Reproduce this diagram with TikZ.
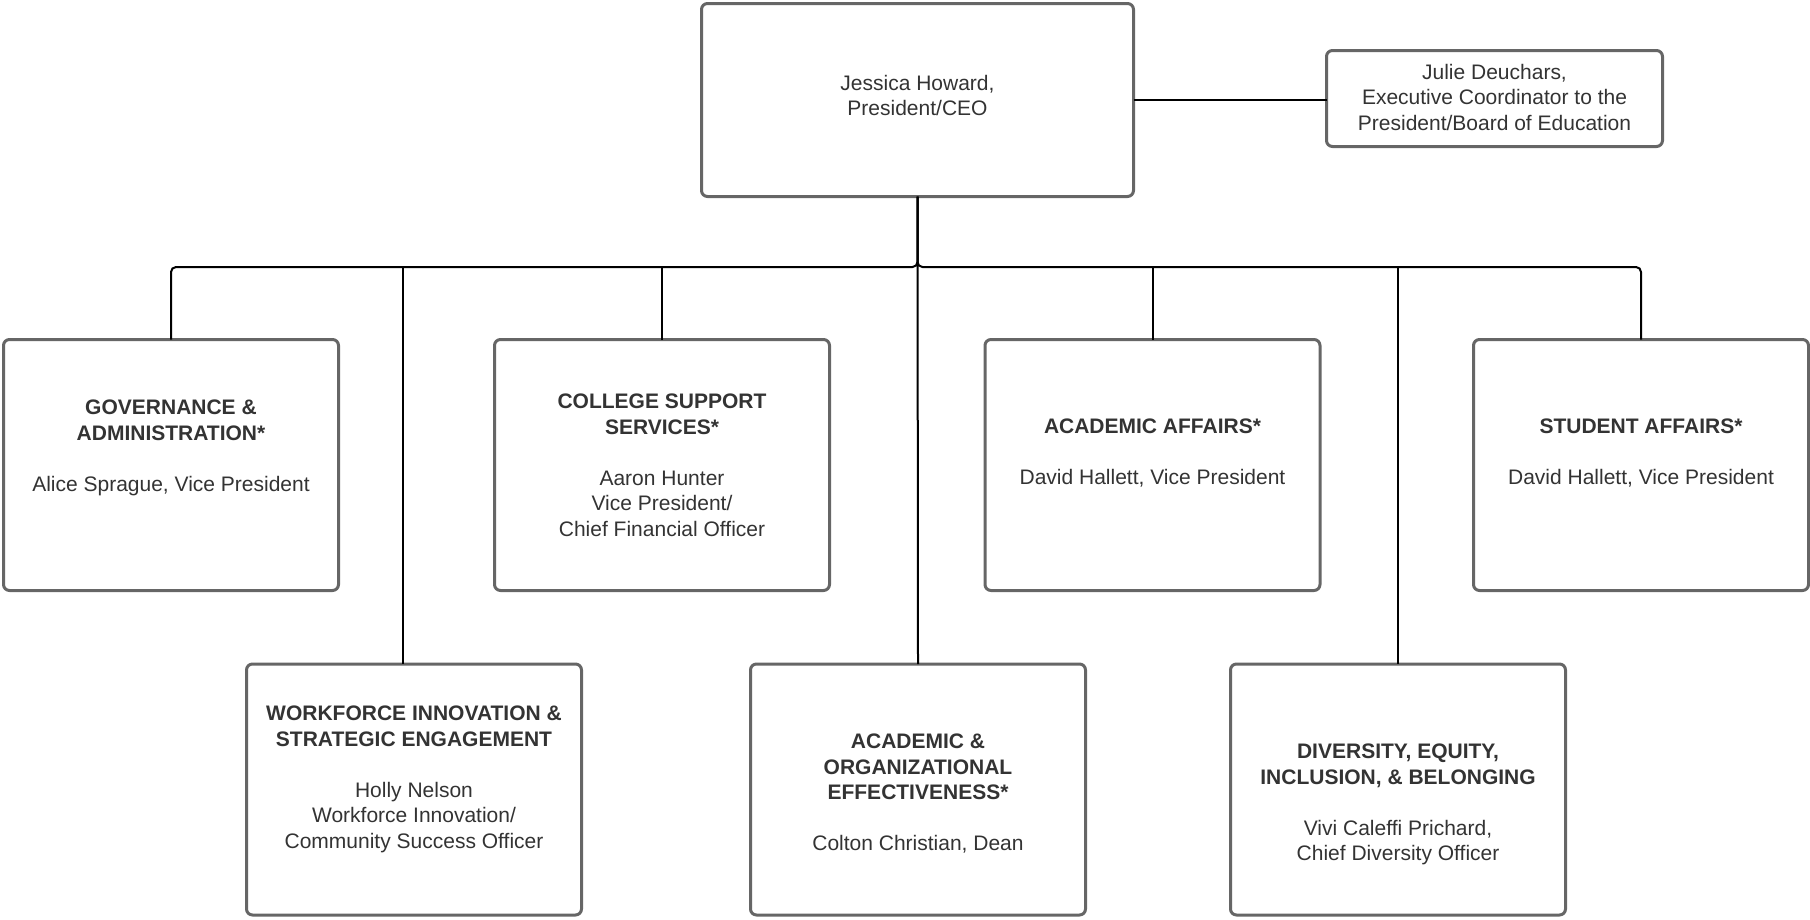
\documentclass[tikz,border=0pt]{standalone}
\usepackage{fontspec}
\setmainfont{Liberation Sans}
\definecolor{boxgray}{HTML}{666666}
\definecolor{txt}{HTML}{333333}
\tikzset{
  orgbox/.style={draw=boxgray, line width=3pt, rounded corners=6pt, inner sep=0pt, outer sep=0pt, fill=white},
  bigbox/.style={orgbox, minimum width=335pt, minimum height=251pt},
  lbl/.style={align=center, inner sep=0pt, text=txt, font=\fontsize{21}{25.5}\selectfont},
  conn/.style={draw=black, line width=2pt},
}
\begin{document}
\begin{tikzpicture}[x=1pt,y=-1pt]
\useasboundingbox (0,0) rectangle (1810,919);
% boxes
\node[orgbox, minimum width=432pt, minimum height=193pt] (pres) at (917.5,100) {};
\node[orgbox, minimum width=336pt, minimum height=96pt] (julie) at (1494.5,98.5) {};
\node[bigbox] (b1) at (171,465) {};
\node[bigbox] (b2) at (662,465) {};
\node[bigbox] (b3) at (1152.5,465) {};
\node[bigbox] (b4) at (1641,465) {};
\node[bigbox] (b5) at (414,789.5) {};
\node[bigbox] (b6) at (918,789.5) {};
\node[bigbox] (b7) at (1398,789.5) {};
% connectors
\coordinate (bus) at (0,267);
\coordinate (j5) at (403,267);
\draw[conn, rounded corners=5pt] (pres.south) |- (b1.north |- bus) -- (b1.north);
\draw[conn, rounded corners=5pt] (pres.south) |- (b4.north |- bus) -- (b4.north);
\draw[conn] (pres.south) -- (b6.north);
\draw[conn] (b2.north |- bus) -- (b2.north);
\draw[conn] (b3.north |- bus) -- (b3.north);
\draw[conn] (b7.north |- bus) -- (b7.north);
\draw[conn] (j5) -- (j5 |- b5.north);
\draw[conn] (pres.east) -- (pres.east -| julie.west);
% texts
\node[lbl] (tpres) at (917.5,95.5) {Jessica Howard,\\President/CEO};
\node[lbl] (tjulie) at (1494.5,97) {Julie Deuchars,\\Executive Coordinator to the\\President/Board of Education};
\node[lbl] (t1) at (171,448) {\textbf{GOVERNANCE \&}\\\textbf{ADMINISTRATION*}\\[25.5pt]Alice Sprague, Vice President};
\node[lbl] (t2) at (662,465.5) {\textbf{COLLEGE SUPPORT}\\\textbf{SERVICES*}\\[25.5pt]Aaron Hunter\\Vice President/\\Chief Financial Officer};
\node[lbl] (t3) at (1152.5,453.5) {\textbf{ACADEMIC AFFAIRS*}\\[25.5pt]David Hallett, Vice President};
\node[lbl] (t4) at (1641,453.5) {\textbf{STUDENT AFFAIRS*}\\[25.5pt]David Hallett, Vice President};
\node[lbl] (t5) at (414,779.5) {\textbf{WORKFORCE INNOVATION \&}\\\textbf{STRATEGIC ENGAGEMENT}\\[25.5pt]Holly Nelson\\Workforce Innovation/\\Community Success Officer};
\node[lbl] (t6) at (918,793.5) {\textbf{ACADEMIC \&}\\\textbf{ORGANIZATIONAL}\\\textbf{EFFECTIVENESS*}\\[25.5pt]Colton Christian, Dean};
\node[lbl] (t7) at (1398,804.5) {\textbf{DIVERSITY, EQUITY,}\\\textbf{INCLUSION, \& BELONGING}\\[25.5pt]Vivi Caleffi Prichard,\\Chief Diversity Officer};
\end{tikzpicture}
\end{document}
